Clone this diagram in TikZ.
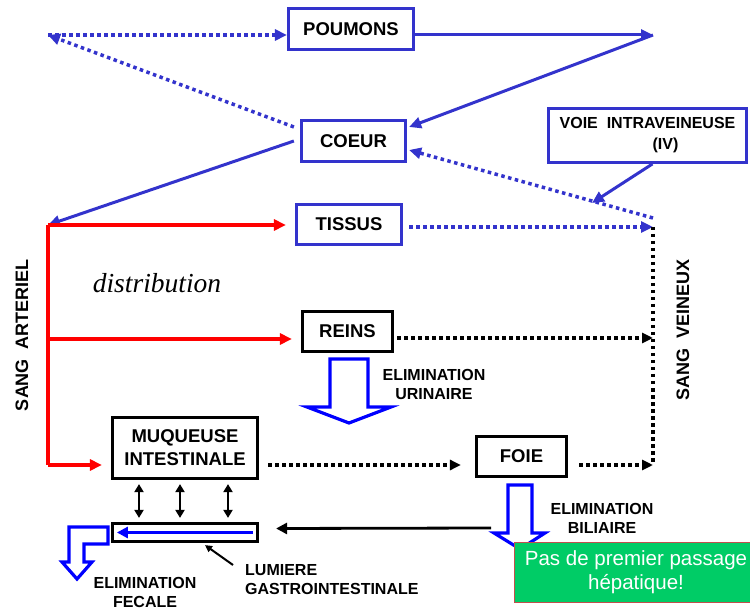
\documentclass[tikz,border=0pt]{standalone}
\usepackage{fontspec}
\setmainfont{Liberation Sans}
\newfontfamily\serifit{Liberation Serif}
\usetikzlibrary{arrows.meta,calc}
\definecolor{cblue}{RGB}{51,51,204}
\definecolor{pblue}{RGB}{0,0,255}
\definecolor{cred}{RGB}{255,0,0}
\definecolor{cgreen}{RGB}{0,204,102}
\definecolor{cborder}{RGB}{192,80,77}
\begin{document}
\begin{tikzpicture}[x=1pt,y=-1pt,
  boxbase/.style={draw, line width=3.2pt, inner sep=0pt, align=center, fill=white,
    font=\fontsize{18.5}{23}\selectfont\bfseries},
  bluebox/.style={boxbase, draw=cblue},
  blackbox/.style={boxbase, draw=black},
  lbl/.style={align=center, inner sep=0pt, font=\fontsize{16}{19}\selectfont\bfseries},
  rotlbl/.style={rotate=90, inner sep=0pt, font=\fontsize{18}{22}\selectfont\bfseries},
  btip/.style={-{Triangle[length=12pt,width=11pt]}},
  bsolid/.style={draw=cblue, line width=3pt, btip},
  bdot/.style={draw=cblue, line width=3.5pt, dash pattern=on 3.5pt off 3.5pt, btip},
  kdot/.style={draw=black, line width=3.5pt, dash pattern=on 3.5pt off 3.5pt},
  kdotarrow/.style={kdot, -{Triangle[length=11pt,width=10pt]}},
  rline/.style={draw=cred, line width=3.2pt},
  rarrow/.style={rline, -{Triangle[length=12pt,width=11pt]}},
  dbl/.style={draw=black, line width=2.6pt, {Triangle[length=8pt,width=9pt]}-{Triangle[length=8pt,width=9pt]}},
  hollow/.style={draw=pblue, line width=3.2pt, fill=white, line join=miter},
]
\useasboundingbox (0,0) rectangle (750,612);

% boxes
\node[bluebox, minimum width=125pt, minimum height=41pt] (poumons) at (351,29) {POUMONS};
\node[bluebox, minimum width=104pt, minimum height=41pt] (coeur) at (353.5,141) {COEUR};
\node[bluebox, minimum width=105pt, minimum height=40pt] (tissus) at (349,224.5) {TISSUS};
\node[blackbox, minimum width=90pt, minimum height=40pt] (reins) at (347.5,331.5) {REINS};
\node[blackbox, minimum width=145pt, minimum height=61pt] (muq) at (185,448) {MUQUEUSE\\INTESTINALE};
\node[blackbox, minimum width=90pt, minimum height=40pt] (foie) at (521.5,456.5) {FOIE};
\node[blackbox, minimum width=145pt, minimum height=18pt] (lum) at (185,532.5) {};
\node[bluebox, line width=2.8pt, minimum width=198pt, minimum height=54pt,
  font=\fontsize{16}{21}\selectfont\bfseries] (voie) at (647.5,135.5)
  {VOIE\ \ INTRAVEINEUSE\\\hspace*{36pt}(IV)};

% coordinates
\coordinate (tl) at (48,35);
\coordinate (tr) at (653,35);
\coordinate (art) at (48,225);
\coordinate (artR) at (48,339);
\coordinate (artM) at (48,465);
\coordinate (vtop) at (653,218);
\coordinate (ven) at (653,227);
\coordinate (venR) at (653,338);
\coordinate (venbot) at (653,465);
\coordinate (ivtip) at (592,203);
\coordinate (biltail) at (491,528);
\coordinate (lumtail) at (233,565);

% pulmonary / cardiac loop
\draw[bdot] ($(coeur.west)+(-6,-14)$) -- (tl);
\draw[bdot] (tl) -- (tl -| poumons.west);
\draw[bsolid] (poumons.east |- tr) -- (tr);
\draw[bsolid] (tr) -- ($(coeur.east)+(2,-14)$);
\draw[bsolid] ($(coeur.west)+(-6,0)$) -- (art);
\draw[bdot] (vtop) -- ($(coeur.east)+(2,9)$);
\draw[bsolid] ($(voie.south)+(5,0)$) -- (ivtip);

% arterial
\draw[rline] (art) -- (artM);
\draw[rarrow] (art) -- ($(art -| tissus.west)+(-9,0)$);
\draw[rarrow] (artR) -- ($(artR -| reins.west)+(-9,0)$);
\draw[rarrow] (artM) -- ($(artM -| muq.west)+(-9,0)$);

% venous
\draw[bdot] ($(ven -| tissus.east)+(6,0)$) -- (ven);
\draw[kdot] (ven) -- (venbot);
\draw[kdotarrow] ($(venR -| reins.east)+(3,0)$) -- (venR);
\draw[kdotarrow] ($(venbot -| muq.east)+(9,0)$) -- ($(venbot -| foie.west)+(-14,0)$);
\draw[kdotarrow] ($(venbot -| foie.east)+(11,0)$) -- (venbot);

% exchanges mucosa / lumen
\draw[dbl] ($(muq.south)+(-46,4)$) -- ($(lum.north)+(-46,-4)$);
\draw[dbl] ($(muq.south)+(-5,4)$) -- ($(lum.north)+(-5,-4)$);
\draw[dbl] ($(muq.south)+(43,4)$) -- ($(lum.north)+(43,-4)$);
\draw[draw=pblue, line width=3.2pt, -{Triangle[length=11pt,width=11pt]}] ($(lum.east)+(-6,0)$) -- ($(lum.west)+(6,0)$);
\draw[draw=black, line width=2.8pt, -{Triangle[length=11pt,width=11pt]}] (biltail) -- ($(lum.east)+(17,-4)$);
\draw[draw=black, line width=2pt, -{Triangle[length=7pt,width=7pt]}] (lumtail) -- ($(lum.south)+(20,2)$);

% hollow arrows
\draw[hollow] (330,359) -- (368,359) -- (368,407) -- (391,407) -- (349,423) -- (307,407) -- (330,407) -- cycle;
\draw[hollow] (508,485) -- (532,485) -- (532,533) -- (545,533) -- (520,549) -- (494,533) -- (508,533) -- cycle;
\draw[hollow] (69,527) -- (108,527) -- (108,544) -- (84,544) -- (84,562) -- (92,562) -- (77,579) -- (62,562) -- (69,562) -- cycle;

% labels
\node[lbl] (elu) at (434,384) {ELIMINATION\\URINAIRE};
\node[lbl] (elb) at (602,518) {ELIMINATION\\BILIAIRE};
\node[lbl] (elf) at (145,592) {ELIMINATION\\FECALE};
\node[lbl, anchor=west, align=left] (lumlbl) at (245,580) {LUMIERE\\GASTROINTESTINALE};
\node[rotlbl] (sa) at (22,335) {SANG\ \ ARTERIEL};
\node[rotlbl] (sv) at (683,330) {SANG\ \ VEINEUX};
\node[inner sep=0pt, font=\fontsize{27.5}{30}\selectfont\serifit\itshape] (distr) at (157,283) {distribution};

% note
\node[draw=cborder, line width=1pt, fill=cgreen, text=white, align=center,
  minimum width=244pt, minimum height=60pt, inner sep=0pt,
  font=\fontsize{20.5}{24}\selectfont] (note) at (636,572) {Pas de premier passage\\hépatique!};
\end{tikzpicture}
\end{document}
